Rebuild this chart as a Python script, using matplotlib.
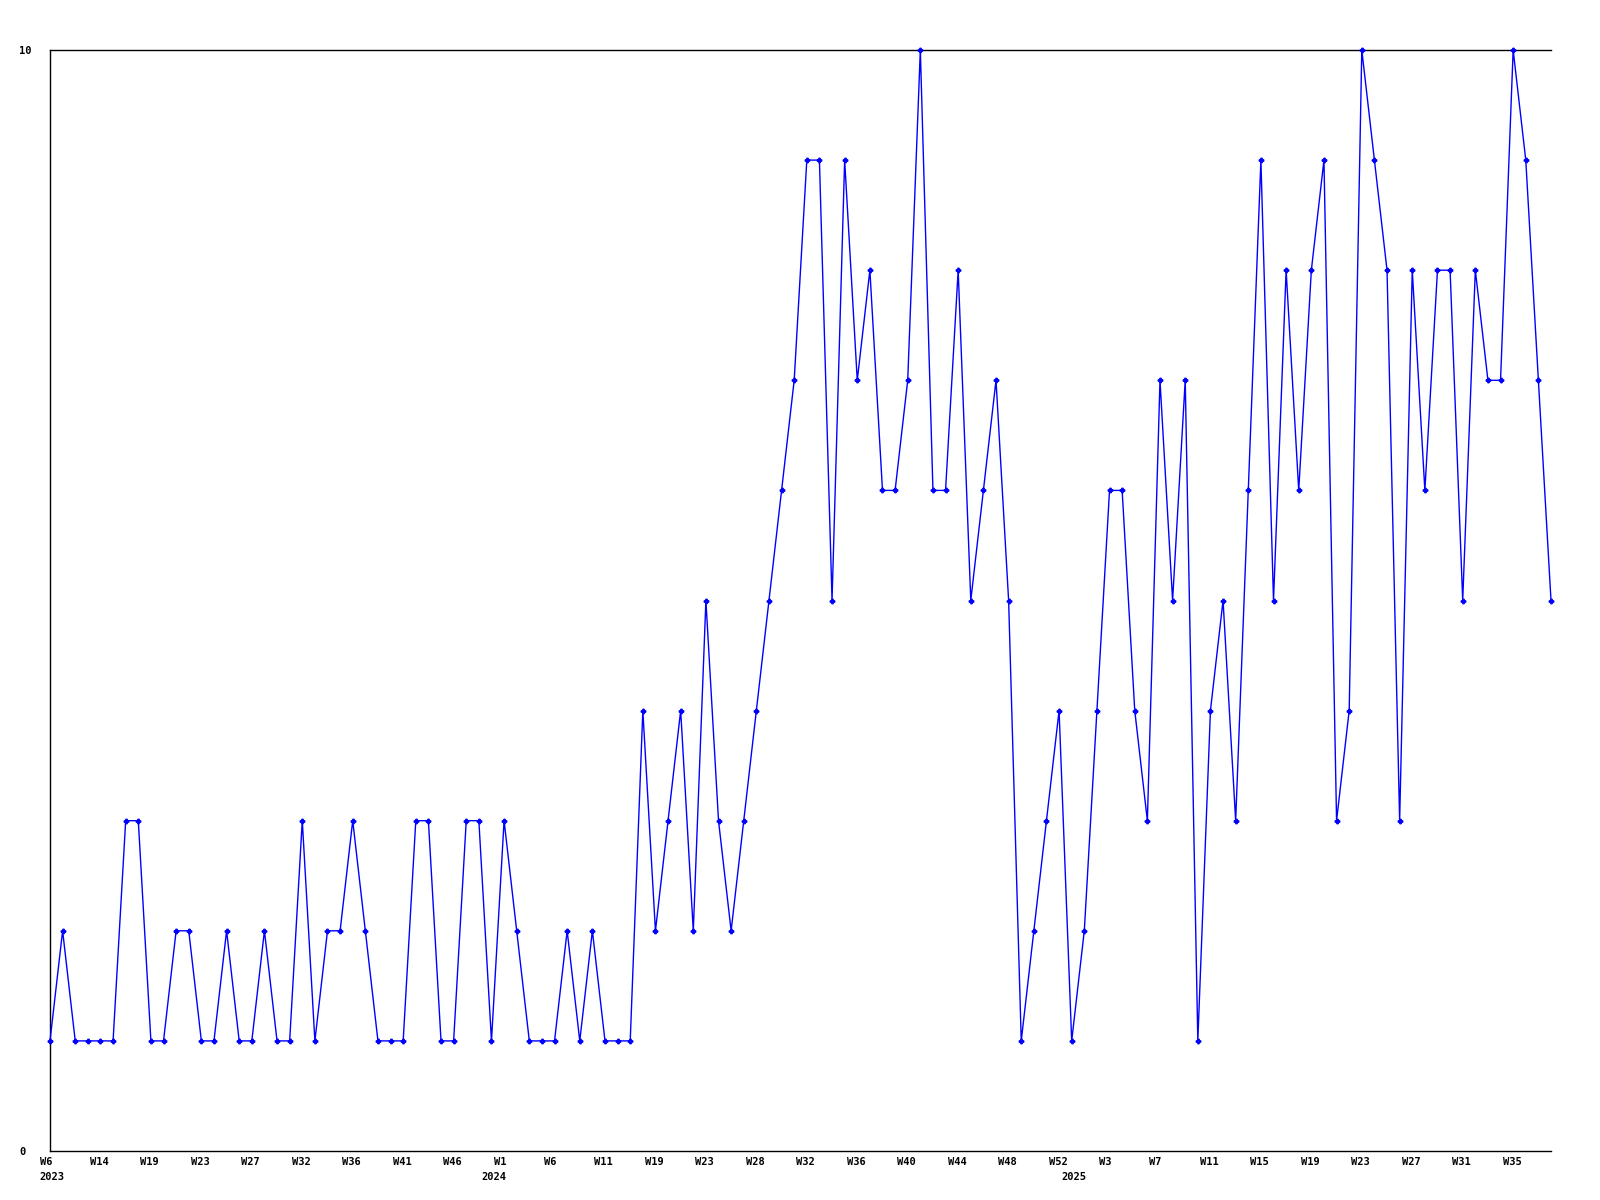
import numpy as np
import matplotlib
matplotlib.use('Agg')
import matplotlib.pyplot as plt
from matplotlib import transforms

# weekly counts, one value per week that has data
values = [1, 2, 1, 1, 1, 1, 3, 3, 1, 1,
          2, 2, 1, 1, 2, 1, 1, 2, 1, 1,
          3, 1, 2, 2, 3, 2, 1, 1, 1, 3,
          3, 1, 1, 3, 3, 1, 3, 2, 1, 1,
          1, 2, 1, 2, 1, 1, 1, 4, 2, 3,
          4, 2, 5, 3, 2, 3, 4, 5, 6, 7,
          9, 9, 5, 9, 7, 8, 6, 6, 7, 10,
          6, 6, 8, 5, 6, 7, 5, 1, 2, 3,
          4, 1, 2, 4, 6, 6, 4, 3, 7, 5,
          7, 1, 4, 5, 3, 6, 9, 5, 8, 6,
          8, 9, 3, 4, 10, 9, 8, 3, 8, 6,
          8, 8, 5, 8, 7, 7, 10, 9, 7, 5]

week_labels = ['W6', 'W14', 'W19', 'W23', 'W27', 'W32', 'W36', 'W41', 'W46', 'W1',
               'W6', 'W11', 'W19', 'W23', 'W28', 'W32', 'W36', 'W40', 'W44', 'W48',
               'W52', 'W3', 'W7', 'W11', 'W15', 'W19', 'W23', 'W27', 'W31', 'W35']
years = ['2023', '2024', '2025']
year_start = [0, 35, 81]

font = dict(family='DejaVu Sans Mono', weight='bold', size=7.5)

fig = plt.figure(figsize=(16, 12), dpi=100)
ax = fig.add_axes([50 / 1600, 49 / 1200, 1501 / 1600, 1101 / 1200])

x = np.arange(len(values))
ax.plot(x, values, color='#0000ff', lw=1, marker='P', markersize=3.2,
        clip_on=False, zorder=3)

ax.set_xlim(0, len(values) - 1)
ax.set_ylim(0, 10)

for s in ['left', 'top', 'bottom']:
    ax.spines[s].set_linewidth(1)
    ax.spines[s].set_color('black')
ax.spines['right'].set_visible(False)

# y ticks: only 0 and 10, left aligned near the figure edge
ax.set_yticks([0, 10])
ax.set_yticklabels(['0', '10'], **font)
ax.tick_params(axis='y', length=0, pad=22)
for lab in ax.get_yticklabels():
    lab.set_horizontalalignment('left')

# x ticks: every 4th week, left aligned a bit before the point
ax.set_xticks(np.arange(0, len(values), 4))
ax.set_xticklabels(week_labels, **font)
ax.tick_params(axis='x', length=0, pad=4)
shift = transforms.ScaledTranslation(-10.5 / 100, 0, fig.dpi_scale_trans)
for lab in ax.get_xticklabels():
    lab.set_horizontalalignment('left')
    lab.set_transform(lab.get_transform() + shift)

trans = transforms.blended_transform_factory(ax.transData, ax.transAxes) + shift
for yr, i in zip(years, year_start):
    ax.text(i, -26 / 1101, yr, transform=trans, ha='left', va='center', **font)

fig.savefig('out.png', dpi=100)
